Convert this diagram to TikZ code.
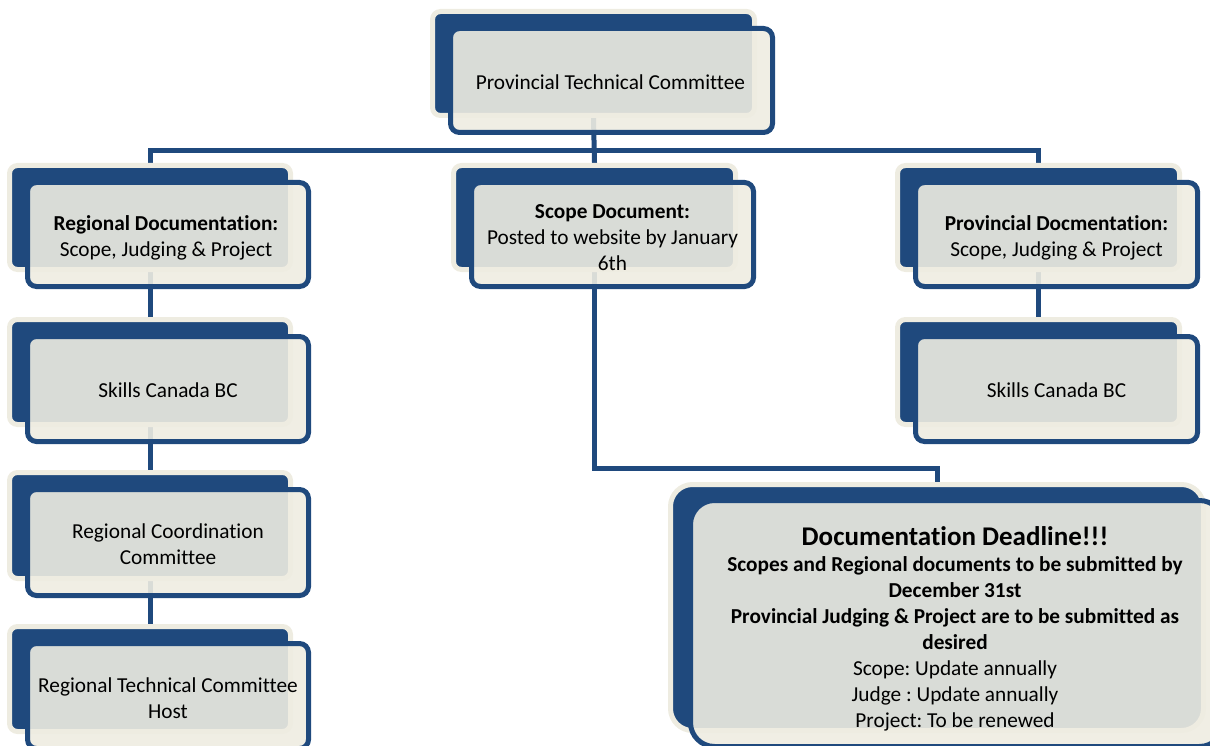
\documentclass[tikz,border=0pt]{standalone}
\usepackage{fontspec}
\setmainfont[Ligatures={NoCommon,NoContextual},RawFeature={-liga;-clig;-dlig}]{Carlito}
\definecolor{cblue}{RGB}{31,73,125}
\definecolor{cream}{RGB}{238,236,225}
\newcommand{\txtfont}{\fontsize{21.3}{26}\selectfont\frenchspacing}
\pgfdeclarelayer{connlayer}
\pgfsetlayers{connlayer,main}
\tikzset{
  backbox/.style={rectangle, rounded corners=8pt, fill=cblue, draw=cream, line width=5pt, inner sep=0pt},
  frontbox/.style={rectangle, rounded corners=9pt, fill=cream, fill opacity=0.9, draw opacity=1, draw=cblue, line width=5pt, inner sep=0pt},
  boxtext/.style={align=center, font=\txtfont, text=black, inner sep=0pt},
  conn/.style={draw=cblue, line width=5pt},
}
\begin{document}
\begin{tikzpicture}[x=1pt,y=-1pt]
\useasboundingbox (0,0) rectangle (1210,746);
% back boxes
\node[backbox, minimum width=322pt, minimum height=104pt] (ptcB) at (593.5,63.5) {};
\node[backbox, minimum width=281pt, minimum height=104pt] (regB) at (150,217.5) {};
\node[backbox, minimum width=282pt, minimum height=104pt] (scopeB) at (594.5,217.5) {};
\node[backbox, minimum width=282pt, minimum height=104pt] (provB) at (1038.5,217.5) {};
\node[backbox, minimum width=281pt, minimum height=105pt] (sklB) at (150,372) {};
\node[backbox, minimum width=282pt, minimum height=105pt] (skrB) at (1038.5,372) {};
\node[backbox, minimum width=281pt, minimum height=106pt] (rccB) at (150,525.5) {};
\node[backbox, minimum width=281pt, minimum height=105pt] (rtcB) at (150,679) {};
\node[backbox, rounded corners=22pt, minimum width=533pt, minimum height=246pt] (dlB) at (937,607.5) {};
\coordinate (bus) at (594,151);
\coordinate (elb) at (700,468);
% connectors (behind boxes)
\begin{pgfonlayer}{connlayer}
\draw[conn] (ptcB.south) -- (scopeB.north);
\draw[conn] (regB.north) |- (bus) -| (provB.north);
\draw[conn] (regB.south) -- (sklB.north);
\draw[conn] (sklB.south) -- (rccB.north);
\draw[conn] (rccB.south) -- (rtcB.north);
\draw[conn] (provB.south) -- (skrB.north);
\draw[conn] (scopeB.south) |- (elb) -| (dlB.north);
\end{pgfonlayer}
% front boxes
\node[frontbox, minimum width=322pt, minimum height=104pt] (ptc) at (611.5,80.5) {};
\node[frontbox, minimum width=281pt, minimum height=104pt] (reg) at (168,234.5) {};
\node[frontbox, minimum width=282pt, minimum height=104pt] (scope) at (612.5,234.5) {};
\node[frontbox, minimum width=282pt, minimum height=104pt] (prov) at (1056.5,234.5) {};
\node[frontbox, minimum width=281pt, minimum height=105pt] (skl) at (168,389) {};
\node[frontbox, minimum width=282pt, minimum height=105pt] (skr) at (1056.5,389) {};
\node[frontbox, minimum width=281pt, minimum height=106pt] (rcc) at (168,542.5) {};
\node[frontbox, minimum width=281pt, minimum height=105pt] (rtc) at (168,696) {};
\node[frontbox, rounded corners=24pt, minimum width=533pt, minimum height=246pt] (dl) at (957,623.5) {};
% texts
\node[boxtext] (ptcT) at ([xshift=-1pt,yshift=-2pt]ptc.center) {Provincial Technical Committee};
\node[boxtext] (regT) at ([xshift=-2pt,yshift=-3.5pt]reg.center) {\textbf{Regional Documentation:}\\Scope, Judging \& Project};
\node[boxtext] (scopeT) at ([yshift=-3pt]scope.center) {\textbf{Scope Document:}\\Posted to website by January\\6th};
\node[boxtext] (provT) at ([yshift=-3pt]prov.center) {\textbf{Provincial Docmentation:}\\Scope, Judging \& Project};
\node[boxtext] (sklT) at ([yshift=-1pt]skl.center) {Skills Canada BC};
\node[boxtext] (skrT) at ([yshift=-1pt]skr.center) {Skills Canada BC};
\node[boxtext] (rccT) at ([yshift=-2pt]rcc.center) {Regional Coordination\\Committee};
\node[boxtext] (rtcT) at ([yshift=-2pt]rtc.center) {Regional Technical Committee\\Host};
\node[boxtext] (dlT) at ([xshift=-2pt,yshift=-5pt]dl.center) {{\fontsize{27}{30}\selectfont\bfseries Documentation Deadline!!!}\\[0pt]
\textbf{Scopes and Regional documents to be submitted by}\\
\textbf{December 31st}\\
\textbf{Provincial Judging \& Project are to be submitted as}\\
\textbf{desired}\\
Scope: Update annually\\
Judge : Update annually\\
Project: To be renewed};
\end{tikzpicture}
\end{document}
